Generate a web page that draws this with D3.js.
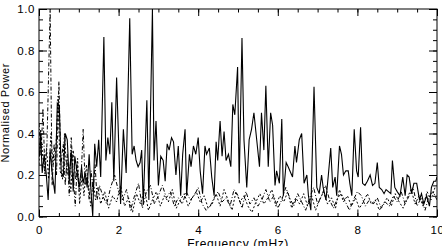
<!DOCTYPE html>
<html><head><meta charset="utf-8">
<script src="https://cdn.jsdelivr.net/npm/d3@7"></script>
<style>
html,body{margin:0;padding:0;background:#fff;}
svg{display:block;}
text{font-family:"Liberation Sans",Arial,sans-serif;fill:#000;}
</style></head>
<body>
<svg id="chart" width="442" height="246"></svg>
<script>
// ---- data ----
const solidFreq = [0.01,0.04,0.08,0.13,0.18,0.23,0.28,0.33,0.40,0.46,0.51,0.56,0.61,0.66,0.71,0.76,0.81,0.86,0.90,0.96,1.01,1.07,1.11,1.16,1.21,1.26,1.31,1.35,1.40,1.45,1.50,1.55,1.63,1.68,1.73,1.78,1.83,1.88,1.95,2.05,2.12,2.19,2.28,2.34,2.39,2.44,2.49,2.54,2.58,2.62,2.71,2.76,2.85,
2.89,2.94,3.00,3.06,3.12,3.17,3.22,3.27,3.33,3.38,3.44,3.50,3.56,3.61,3.67,3.71,3.78,3.82,3.88,3.94,4.00,4.05,4.11,4.17,4.21,4.28,4.34,4.40,4.45,4.49,4.55,4.60,4.65,4.70,4.76,4.82,4.87,4.92,4.99,5.03,5.10,5.15,5.22,5.28,5.34,5.40,5.47,5.54,5.59,5.65,5.70,5.76,5.82,5.87,5.93,5.97,6.04,6.10,6.14,6.21,6.26,
6.37,6.43,6.47,6.54,6.60,6.66,6.73,6.77,6.83,6.91,6.98,7.04,7.10,7.14,7.21,7.27,7.33,7.38,7.44,7.48,7.55,7.60,7.65,7.71,7.77,7.81,7.86,7.92,7.98,8.02,8.08,8.13,8.19,8.25,8.32,8.38,8.44,8.50,8.55,8.61,8.67,8.72,8.78,8.84,8.88,8.94,9.00,9.07,9.14,9.20,9.25,9.30,9.36,9.42,9.49,9.56,9.61,9.67,9.74,9.81,9.86,9.92,9.97,10.0];
const solidPower = [0.29,0.40,0.21,0.30,0.21,0.08,0.32,0.21,0.11,0.545,0.53,0.21,0.19,0.40,0.37,0.17,0.32,0.12,0.29,0.21,0.14,0.24,0.16,0.21,0.14,0.30,0.11,0.00,0.35,0.24,0.37,0.19,0.865,0.27,0.38,0.30,0.55,0.17,0.67,0.06,0.42,0.21,0.955,0.30,0.34,0.27,0.24,0.26,0.32,0.06,0.56,0.08,1.00,
0.27,0.46,0.15,0.29,0.27,0.17,0.35,0.32,0.38,0.36,0.20,0.34,0.10,0.30,0.42,0.10,0.30,0.24,0.34,0.30,0.38,0.22,0.11,0.34,0.30,0.33,0.19,0.10,0.36,0.27,0.46,0.29,0.41,0.27,0.30,0.24,0.54,0.49,0.72,0.16,0.86,0.37,0.14,0.37,0.42,0.50,0.37,0.24,0.50,0.32,0.63,0.24,0.50,0.44,0.15,0.22,0.16,0.47,0.10,0.26,0.24,
0.19,0.34,0.26,0.37,0.40,0.16,0.20,0.10,0.03,0.625,0.14,0.11,0.20,0.14,0.08,0.20,0.33,0.14,0.19,0.10,0.34,0.30,0.20,0.22,0.22,0.16,0.10,0.42,0.22,0.19,0.43,0.16,0.15,0.17,0.20,0.15,0.16,0.26,0.14,0.13,0.11,0.13,0.12,0.11,0.27,0.14,0.12,0.10,0.19,0.10,0.20,0.19,0.11,0.16,0.16,0.08,0.11,0.06,0.10,0.05,0.14,0.17,0.17,0.19];

const dashDotFreq = [0.00,0.05,0.10,0.15,0.20,0.28,0.33,0.38,0.44,0.50,0.55,0.61,0.66,0.71,0.76,0.81,0.86,0.91,0.96,1.01,1.06,1.11,1.16,1.21,1.26,1.31,1.36,1.41,1.46,1.52,1.6,1.7,1.8,1.9,2.0,2.1,2.2,2.3,2.4,2.5,2.6,2.7,2.8,2.9,3.0,3.1,3.2,3.3,3.4,3.5,3.6,3.7,3.8,3.9,4.0,4.1,4.2,4.3,4.4,4.5,4.6,4.7,4.8,4.9,5.0,5.1,5.2,5.3,5.4,5.5,5.6,5.7,5.8,5.9,6.0,6.1,6.2,6.3,6.4,6.5,6.6,6.7,6.8,6.9,7.0,7.1,7.2,7.3,7.4,7.5,7.6,7.7,7.8,7.9,8.0,8.1,8.2,8.3,8.4,8.5,8.6,8.7,8.8,8.9,9.0,9.1,9.2,9.3,9.4,9.5,9.6,9.7,9.8,9.9,10.0];
const dashDotPower = [0.45,0.30,0.52,0.20,0.35,1.00,0.15,0.35,0.20,0.65,0.25,0.35,0.15,0.30,0.10,0.38,0.20,0.05,0.25,0.12,0.20,0.42,0.15,0.20,0.08,0.22,0.12,0.25,0.08,0.15,0.10,0.06,0.14,0.20,0.12,0.08,0.13,0.03,0.10,0.16,0.04,0.12,0.15,0.06,0.10,0.15,0.09,0.12,0.05,0.09,0.06,0.12,0.08,0.10,0.14,0.06,0.03,0.05,0.09,0.12,0.07,0.09,0.05,0.13,0.10,0.04,0.12,0.06,0.09,0.05,0.08,0.13,0.07,0.10,0.04,0.08,0.14,0.09,0.05,0.11,0.07,0.03,0.09,0.14,0.06,0.10,0.15,0.08,0.04,0.09,0.11,0.07,0.03,0.08,0.12,0.10,0.05,0.08,0.06,0.09,0.04,0.07,0.05,0.10,0.07,0.12,0.06,0.10,0.14,0.05,0.09,0.03,0.10,0.12,0.08];

const dottedFreq = [0.00,0.04,0.09,0.14,0.19,0.24,0.30,0.35,0.42,0.48,0.53,0.59,0.64,0.70,0.75,0.80,0.86,0.92,0.97,1.02,1.08,1.13,1.19,1.24,1.30,1.36,1.42,1.48,1.55,1.65,1.75,1.85,1.95,2.05,2.15,2.25,2.35,2.45,2.55,2.65,2.75,2.85,2.95,3.05,3.15,3.25,3.35,3.45,3.55,3.65,3.75,3.85,3.95,4.05,4.15,4.25,4.35,4.45,4.55,4.65,4.75,4.85,4.95,5.05,5.15,5.25,5.35,5.45,5.55,5.65,5.75,5.85,5.95,6.05,6.15,6.25,6.35,6.45,6.55,6.65,6.75,6.85,6.95,7.05,7.15,7.25,7.35,7.45,7.55,7.65,7.75,7.85,7.95,8.05,8.15,8.25,8.35,8.45,8.55,8.65,8.75,8.85,8.95,9.05,9.15,9.25,9.35,9.45,9.55,9.65,9.75,9.85,9.95];
const dottedPower = [0.25,0.42,0.30,0.22,0.33,0.18,0.40,0.25,0.30,0.58,0.22,0.18,0.40,0.20,0.25,0.12,0.32,0.18,0.28,0.06,0.20,0.10,0.25,0.15,0.05,0.18,0.08,0.14,0.06,0.12,0.04,0.10,0.07,0.15,0.05,0.09,0.02,0.11,0.06,0.13,0.03,0.08,0.12,0.05,0.10,0.07,0.13,0.04,0.08,0.11,0.05,0.09,0.12,0.07,0.10,0.04,0.06,0.11,0.05,0.13,0.08,0.03,0.12,0.07,0.10,0.05,0.02,0.07,0.11,0.06,0.09,0.13,0.05,0.10,0.07,0.12,0.04,0.09,0.06,0.11,0.05,0.10,0.03,0.08,0.12,0.06,0.09,0.04,0.13,0.07,0.10,0.05,0.09,0.04,0.07,0.11,0.06,0.08,0.03,0.06,0.09,0.05,0.11,0.07,0.04,0.09,0.13,0.06,0.10,0.05,0.12,0.08,0.14];

const xTicks = [0,2,4,6,8,10];
const yTicks = [0.0,0.2,0.4,0.6,0.8,1.0];
const xLabel = "Frequency (mHz)";
const yLabel = "Normalised Power";

// ---- layout ----
const svg = d3.select("#chart");
const L = 39, R = 437, T = 9, B = 216.5;
const x = d3.scaleLinear().domain([0,10]).range([L,R]);
const y = d3.scaleLinear().domain([0,1]).range([B,T]);

svg.append("defs").append("clipPath").attr("id","clip")
  .append("rect").attr("x",L).attr("y",T).attr("width",R-L).attr("height",B-T);

const line = d3.line().x(d=>x(d[0])).y(d=>y(d[1]));
const g = svg.append("g").attr("clip-path","url(#clip)");
const zip = (a,b)=>a.map((v,i)=>[v,b[i]]);

g.append("path").datum(zip(dottedFreq,dottedPower)).attr("d",line)
  .attr("fill","none").attr("stroke","#000").attr("stroke-width",1).attr("stroke-dasharray","2,2");
g.append("path").datum(zip(dashDotFreq,dashDotPower)).attr("d",line)
  .attr("fill","none").attr("stroke","#000").attr("stroke-width",1).attr("stroke-dasharray","4,2,1,2");
g.append("path").datum(zip(solidFreq,solidPower)).attr("d",line)
  .attr("fill","none").attr("stroke","#000").attr("stroke-width",1.1);

// frame
svg.append("rect").attr("x",L).attr("y",T).attr("width",R-L).attr("height",B-T)
  .attr("fill","none").attr("stroke","#000").attr("stroke-width",1);

// axes with inward ticks (major + minor) on all sides
const xMinor = d3.range(0,10.001,0.5);
const yMinor = d3.range(0,1.0001,0.05);
function addX(pos, transform, dirInward){
  const ax = (pos==="bottom"? d3.axisBottom(x): d3.axisTop(x));
  svg.append("g").attr("transform",transform)
    .call(ax.tickValues(xMinor).tickSize(-3.5).tickFormat(""))
    .call(s=>s.select(".domain").remove());
  const gm = svg.append("g").attr("transform",transform)
    .call(ax.tickValues(xTicks).tickSize(-7).tickFormat(pos==="bottom"? d3.format("d"):""));
  gm.select(".domain").remove();
  return gm;
}
const xb = addX("bottom",`translate(0,${B})`);
xb.selectAll("text").attr("y",17.5).attr("dy",0).attr("font-size",11.5).attr("letter-spacing","0.5px")
  .attr("font-family","Liberation Sans, Arial, sans-serif");
addX("top",`translate(0,${T})`);

function addY(pos, transform){
  const ax = (pos==="left"? d3.axisLeft(y): d3.axisRight(y));
  svg.append("g").attr("transform",transform)
    .call(ax.tickValues(yMinor).tickSize(-4).tickFormat(""))
    .call(s=>s.select(".domain").remove());
  const gm = svg.append("g").attr("transform",transform)
    .call(ax.tickValues(yTicks).tickSize(-8).tickFormat(pos==="left"? d3.format(".1f"):""));
  gm.select(".domain").remove();
  return gm;
}
const yl = addY("left",`translate(${L},0)`);
yl.selectAll("text").attr("x",-4).attr("font-size",11.5).attr("letter-spacing","0.6px")
  .attr("font-family","Liberation Sans, Arial, sans-serif");
addY("right",`translate(${R},0)`);
svg.selectAll(".tick line").attr("stroke","#000").attr("stroke-width",1);

svg.append("text").attr("x",(L+R)/2).attr("y",247.5).attr("text-anchor","middle")
  .attr("font-size",12).attr("letter-spacing","0.6px").text(xLabel);
svg.append("text").attr("transform",`translate(9,${(T+B)/2}) rotate(-90)`)
  .attr("text-anchor","middle").attr("font-size",11).attr("letter-spacing","0.6px").text(yLabel);
</script>
</body></html>
